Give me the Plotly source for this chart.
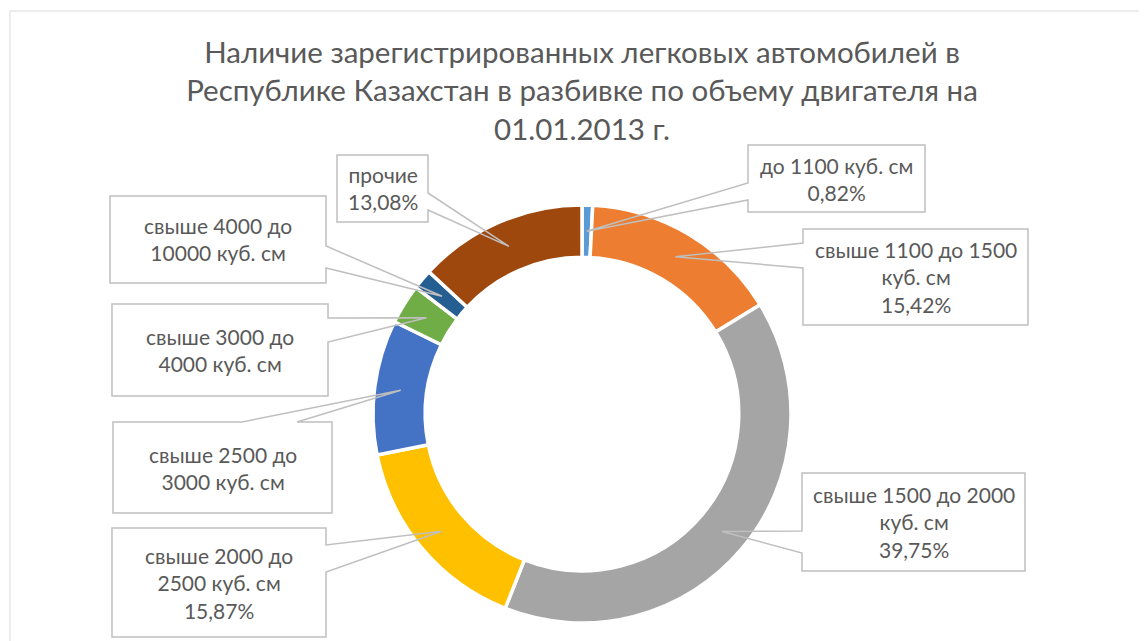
import math
import plotly.graph_objects as go

# ---- data ----
categories = [
    "до 1100 куб. см",
    "свыше 1100 до 1500 куб. см",
    "свыше 1500 до 2000 куб. см",
    "свыше 2000 до 2500 куб. см",
    "свыше 2500 до 3000 куб. см",
    "свыше 3000 до 4000 куб. см",
    "свыше 4000 до 10000 куб. см",
    "прочие",
]
values = [0.82, 15.42, 39.75, 15.87, 10.42, 3.08, 1.56, 13.08]
label_names = [
    "до 1100 куб. см",
    "свыше 1100 до 1500<br>куб. см",
    "свыше 1500 до 2000<br>куб. см",
    "свыше 2000 до<br>2500 куб. см",
    "свыше 2500 до<br>3000 куб. см",
    "свыше 3000 до<br>4000 куб. см",
    "свыше 4000 до<br>10000 куб. см",
    "прочие",
]
show_percent = [True, True, True, True, False, False, False, True]
colors = ["#5B9BD5", "#ED7D31", "#A5A5A5", "#FFC000", "#4472C4", "#70AD47", "#255E91", "#9E480E"]
title_text = ("Наличие зарегистрированных легковых автомобилей в<br>"
              "Республике Казахстан в разбивке по объему двигателя на<br>"
              "01.01.2013 г.")

# ---- layout geometry (screen pixels) ----
W, H = 1147, 641
OFF = 8  # page body margin
CX, CY, R = 582, 414, 209
HOLE = 0.75
# boxes: (left, top, right, bottom, side, a1, a2)
boxes = [
    (748, 145, 925, 212, "left", 183, 200),
    (803, 229, 1028, 325, "left", 243, 268),
    (802, 473, 1025, 571, "left", 531, 553),
    (112, 528, 326, 637, "right", 545, 572),
    (113, 422, 332, 513, "top", 242, 297),
    (112, 304, 328, 396, "right", 318, 342),
    (110, 196, 326, 283, "right", 246, 268),
    (337, 155, 428, 222, "right", 193, 210),
]
TEXT_COLOR = "#595959"
LINE_COLOR = "#BFBFBF"
FONT = "Lato"


def px(x):
    return (x - OFF) / W


def py(y):
    return 1 - (y - OFF) / H


fig = go.Figure(go.Pie(
    labels=categories,
    values=values,
    hole=HOLE,
    sort=False,
    direction="clockwise",
    rotation=0,
    marker=dict(colors=colors, line=dict(color="white", width=3.5)),
    textinfo="none",
    hoverinfo="label+percent",
    showlegend=False,
    domain=dict(x=[px(CX - R), px(CX + R)], y=[py(CY + R), py(CY - R)]),
))

total = sum(values)
cum = 0.0
shapes = []
annotations = []
r_mid = R * (1 + HOLE) / 2
for i, v in enumerate(values):
    mid = (cum + v / 2) / total * 2 * math.pi
    cum += v
    tx = CX + r_mid * math.sin(mid)
    ty = CY - r_mid * math.cos(mid)
    L, T, Rr, B, side, a1, a2 = boxes[i]
    if side == "left":
        pts = [(L, T), (Rr, T), (Rr, B), (L, B), (L, a2), (tx, ty), (L, a1)]
    elif side == "right":
        pts = [(L, T), (Rr, T), (Rr, a1), (tx, ty), (Rr, a2), (Rr, B), (L, B)]
    else:  # top
        pts = [(L, T), (a1, T), (tx, ty), (a2, T), (Rr, T), (Rr, B), (L, B)]
    path = "M " + " L ".join(f"{px(x):.5f},{py(y):.5f}" for x, y in pts) + " Z"
    shapes.append(dict(type="path", xref="paper", yref="paper", path=path,
                       line=dict(color=LINE_COLOR, width=1.5), fillcolor="rgba(0,0,0,0)"))
    txt = label_names[i]
    if show_percent[i]:
        txt += "<br>" + f"{v:.2f}".replace(".", ",") + "%"
    annotations.append(dict(x=px((L + Rr) / 2), y=py((T + B) / 2), xref="paper", yref="paper",
                            text=txt, showarrow=False, xanchor="center", yanchor="middle",
                            align="center", font=dict(family=FONT, size=21, color=TEXT_COLOR)))

# chart area border
shapes.append(dict(type="line", xref="paper", yref="paper", x0=px(10), x1=1.01, y0=py(11), y1=py(11),
                   line=dict(color="#D9D9D9", width=1)))
shapes.append(dict(type="line", xref="paper", yref="paper", x0=px(10), x1=px(10), y0=py(11), y1=-0.02,
                   line=dict(color="#D9D9D9", width=1)))

fig.update_layout(
    width=W, height=H, autosize=False,
    margin=dict(l=0, r=0, t=0, b=0),
    paper_bgcolor="white", plot_bgcolor="white",
    title=dict(text=title_text, x=px(582), xanchor="center", xref="paper",
               y=py(63), yanchor="middle", yref="paper",
               font=dict(family=FONT, size=29.5, color=TEXT_COLOR)),
    shapes=shapes,
    annotations=annotations,
)

fig.write_html("out.html")
